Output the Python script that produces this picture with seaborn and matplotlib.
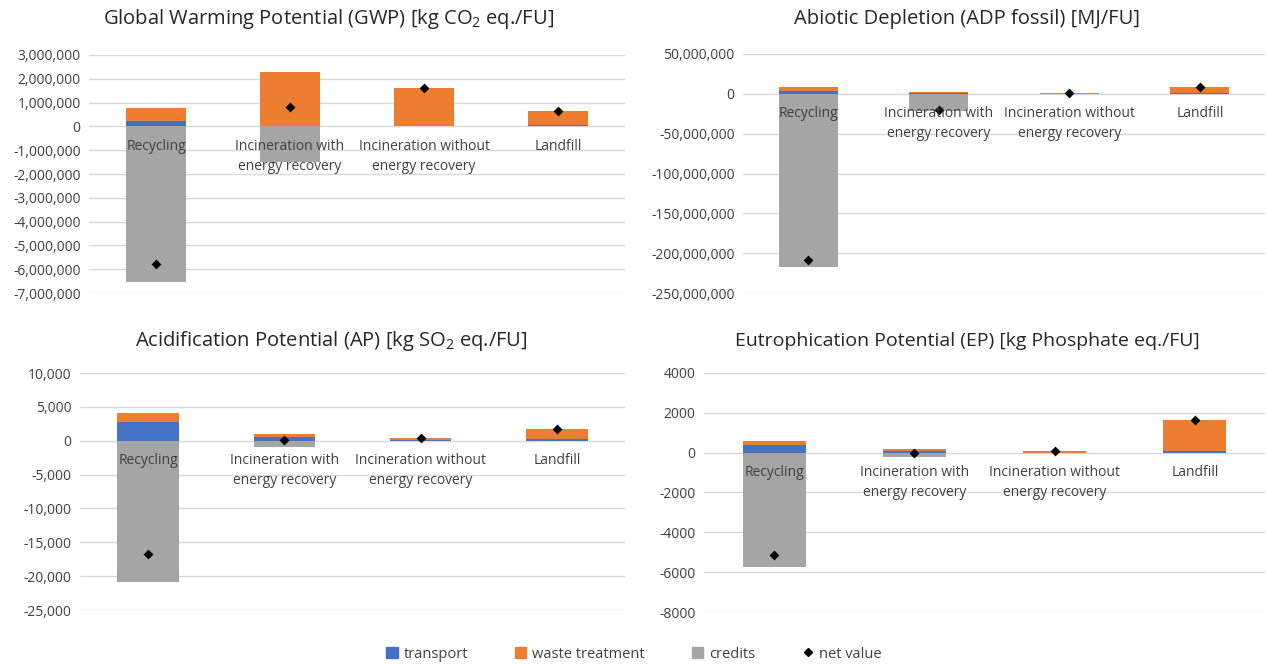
import pandas as pd
import seaborn as sns
import matplotlib.pyplot as plt
from matplotlib.patches import Patch
from matplotlib.lines import Line2D
from matplotlib.ticker import FuncFormatter

# categories and values
categories = ['Recycling', 'Incineration with\nenergy recovery',
              'Incineration without\nenergy recovery', 'Landfill']

gwp_transport = [220000, 20000, 10000, 50000]
gwp_waste = [550000, 2280000, 1590000, 600000]
gwp_credits = [-6550000, -1500000, 0, 0]
gwp_net = [-5800000, 800000, 1600000, 650000]

adp_transport = [3000000, 500000, 200000, 500000]
adp_waste = [6000000, 1500000, 300000, 8500000]
adp_credits = [-217000000, -22000000, 0, 0]
adp_net = [-208000000, -20000000, 500000, 9000000]

ap_transport = [2700, 600, 50, 250]
ap_waste = [1400, 450, 350, 1450]
ap_credits = [-20800, -950, 0, 0]
ap_net = [-16700, 100, 400, 1700]

ep_transport = [400, 80, 5, 80]
ep_waste = [200, 100, 75, 1560]
ep_credits = [-5750, -200, 0, 0]
ep_net = [-5150, -20, 80, 1640]

C_TRANS = '#4472C4'
C_WASTE = '#ED7D31'
C_CRED = '#A5A5A5'

sns.set_style('white')
plt.rcParams['font.family'] = ['Open Sans', 'DejaVu Sans']
plt.rcParams['mathtext.default'] = 'regular'

fig = plt.figure(figsize=(12.68, 6.64), dpi=100)


def panel(rect, transport, waste, credits, net, ylim, step, fmt):
    ax = fig.add_axes(rect)
    df = pd.DataFrame({'cat': categories, 'transport': transport,
                       'waste': waste, 'credits': credits, 'net': net})
    df['top'] = df['transport'] + df['waste']
    # orange = transport + waste, blue drawn over it, grey below zero
    bar_kw = dict(x='cat', width=0.45, saturation=1, ax=ax, linewidth=0,
                  edgecolor='none')
    sns.barplot(data=df, y='top', color=C_WASTE, zorder=2, **bar_kw)
    sns.barplot(data=df, y='transport', color=C_TRANS, zorder=3, **bar_kw)
    sns.barplot(data=df, y='credits', color=C_CRED, zorder=2, **bar_kw)
    sns.stripplot(data=df, x='cat', y='net', color='black', marker='D',
                  size=5, jitter=False, ax=ax, zorder=5)
    ax.set_ylim(*ylim)
    ax.set_xlim(-0.5, 3.5)
    ax.set_yticks(range(ylim[0], ylim[1] + 1, step))
    ax.yaxis.set_major_formatter(FuncFormatter(fmt))
    ax.grid(axis='y', color='#D9D9D9', linewidth=1, zorder=0)
    ax.set_axisbelow(True)
    sns.despine(ax=ax, left=True, bottom=True)
    ax.set_xticks([])
    ax.set_xlabel('')
    ax.set_ylabel('')
    ax.tick_params(axis='y', length=0, labelsize=10, colors='#404040', pad=6)
    for i, c in enumerate(categories):
        ax.annotate(c, (i, 0), xytext=(0, -9), textcoords='offset points',
                    ha='center', va='top', fontsize=10, color='#404040',
                    linespacing=1.45, zorder=6)
    return ax


comma = lambda v, p: f'{v:,.0f}'
plain = lambda v, p: f'{v:.0f}'

panel([0.0702, 0.5587, 0.4227, 0.3585], gwp_transport, gwp_waste, gwp_credits,
      gwp_net, (-7000000, 3000000), 1000000, comma)
panel([0.586, 0.5587, 0.4117, 0.3600], adp_transport, adp_waste, adp_credits,
      adp_net, (-250000000, 50000000), 50000000, comma)
panel([0.0631, 0.0813, 0.4298, 0.3569], ap_transport, ap_waste, ap_credits,
      ap_net, (-25000, 10000), 5000, comma)
panel([0.5552, 0.0783, 0.4424, 0.3600], ep_transport, ep_waste, ep_credits,
      ep_net, (-8000, 4000), 2000, plain)

tkw = dict(ha='center', va='center', fontsize=14.5, color='#262626')
fig.text(0.259, 0.972, 'Global Warming Potential (GWP) [kg CO$_2$ eq./FU]', **tkw)
fig.text(0.763, 0.972, 'Abiotic Depletion (ADP fossil) [MJ/FU]', **tkw)
fig.text(0.261, 0.486, 'Acidification Potential (AP) [kg SO$_2$ eq./FU]', **tkw)
fig.text(0.763, 0.486, 'Eutrophication Potential (EP) [kg Phosphate eq./FU]',
         fontsize=14, ha='center', va='center', color='#262626')

handles = [Patch(color=C_TRANS, label='transport'),
           Patch(color=C_WASTE, label='waste treatment'),
           Patch(color=C_CRED, label='credits'),
           Line2D([], [], color='black', marker='D', markersize=4,
                  linestyle='none', label='net value')]
fig.legend(handles=handles, loc='center', bbox_to_anchor=(0.5, 0.015), ncol=4,
           frameon=False, fontsize=10.5, handlelength=0.8, handleheight=0.8,
           handletextpad=0.4, columnspacing=3.2, labelcolor='#404040')

plt.savefig('out.png', dpi=100)
